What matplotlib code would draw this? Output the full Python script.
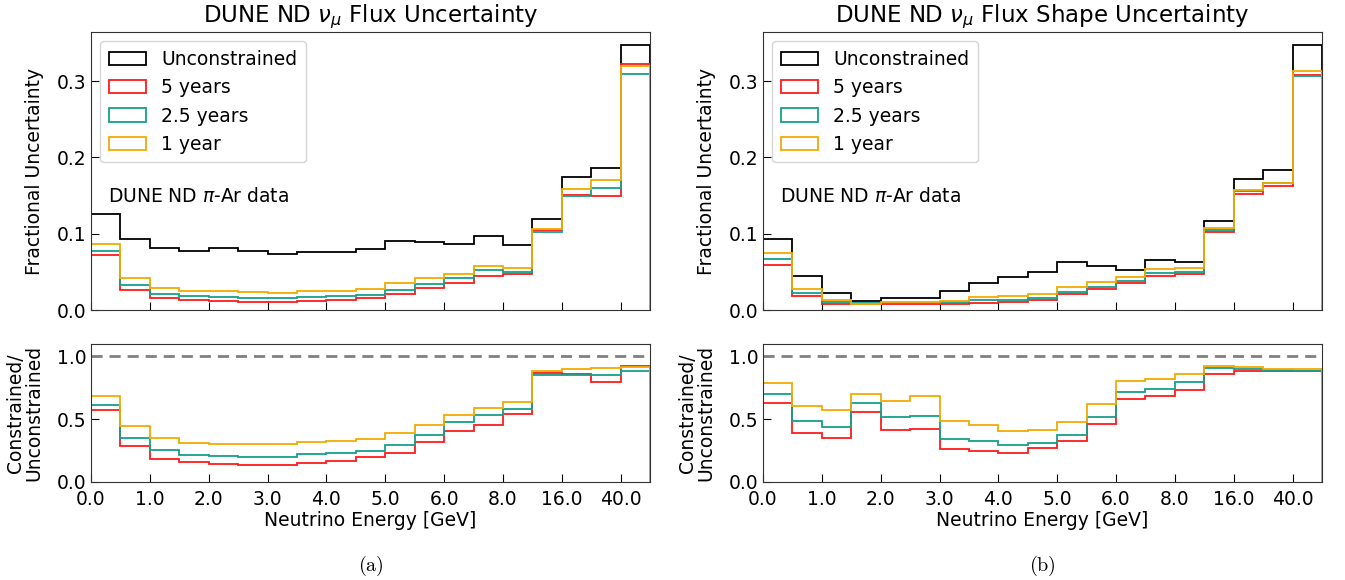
import numpy as np
import matplotlib.pyplot as plt

plt.rcParams['font.family'] = ['DejaVu Sans']
plt.rcParams['mathtext.fontset'] = 'dejavusans'

# bin labels (every second bin edge is labelled)
tick_labels = ['0.0', '1.0', '2.0', '3.0', '4.0', '5.0', '6.0', '8.0', '16.0', '40.0']
nbins = 19
series_names = ['Unconstrained', '5 years', '2.5 years', '1 year']
colors = ['black', '#ff1a1a', '#16a08a', '#f2ab00']

# (a) total flux uncertainty
a_unc = [0.126, 0.0934, 0.081, 0.078, 0.081, 0.077, 0.074, 0.076, 0.076, 0.080,
         0.091, 0.0886, 0.0864, 0.0965, 0.0855, 0.119, 0.175, 0.186, 0.347]
a_5y = [0.0715, 0.0268, 0.0158, 0.0132, 0.0118, 0.011, 0.0105, 0.0123, 0.0132, 0.0162,
        0.021, 0.029, 0.036, 0.045, 0.047, 0.105, 0.151, 0.149, 0.322]
a_25y = [0.077, 0.033, 0.021, 0.018, 0.017, 0.016, 0.0154, 0.017, 0.018, 0.020,
         0.026, 0.034, 0.042, 0.052, 0.050, 0.102, 0.150, 0.160, 0.310]
a_1y = [0.0864, 0.0425, 0.029, 0.025, 0.025, 0.0237, 0.0228, 0.025, 0.0254, 0.028,
        0.0355, 0.0417, 0.047, 0.058, 0.0557, 0.106, 0.159, 0.170, 0.320]
a_r5y = [0.571, 0.289, 0.184, 0.163, 0.145, 0.139, 0.137, 0.153, 0.171, 0.197,
         0.232, 0.321, 0.408, 0.455, 0.539, 0.866, 0.861, 0.797, 0.926]
a_r25y = [0.613, 0.353, 0.258, 0.218, 0.205, 0.200, 0.200, 0.221, 0.229, 0.250,
          0.297, 0.374, 0.476, 0.534, 0.582, 0.853, 0.853, 0.853, 0.887]
a_r1y = [0.684, 0.447, 0.353, 0.313, 0.303, 0.300, 0.303, 0.321, 0.329, 0.345,
         0.387, 0.453, 0.534, 0.592, 0.637, 0.882, 0.897, 0.908, 0.918]

# (b) shape-only uncertainty
b_unc = [0.093, 0.0447, 0.0228, 0.0118, 0.0154, 0.0154, 0.025, 0.036, 0.043, 0.050,
         0.0636, 0.0583, 0.0526, 0.065, 0.0627, 0.117, 0.172, 0.183, 0.347]
b_5y = [0.0588, 0.0184, 0.0079, 0.0075, 0.0075, 0.0079, 0.0075, 0.0096, 0.0105, 0.0136,
        0.0215, 0.028, 0.035, 0.0447, 0.047, 0.1018, 0.1526, 0.163, 0.308]
b_25y = [0.067, 0.022, 0.011, 0.0088, 0.0092, 0.0096, 0.0105, 0.0127, 0.0136, 0.0162,
         0.024, 0.0307, 0.038, 0.048, 0.050, 0.105, 0.156, 0.166, 0.307]
b_1y = [0.075, 0.028, 0.0132, 0.0079, 0.010, 0.011, 0.0118, 0.017, 0.018, 0.021,
        0.0307, 0.0368, 0.043, 0.0544, 0.0548, 0.108, 0.1575, 0.166, 0.3136]
b_r5y = [0.632, 0.392, 0.353, 0.561, 0.413, 0.424, 0.261, 0.247, 0.234, 0.268,
         0.329, 0.461, 0.663, 0.689, 0.732, 0.863, 0.882, 0.882, 0.884]
b_r25y = [0.705, 0.482, 0.439, 0.626, 0.518, 0.529, 0.345, 0.324, 0.295, 0.313,
          0.371, 0.518, 0.718, 0.742, 0.797, 0.908, 0.900, 0.889, 0.887]
b_r1y = [0.789, 0.608, 0.574, 0.703, 0.647, 0.689, 0.484, 0.453, 0.408, 0.413,
         0.474, 0.624, 0.803, 0.824, 0.861, 0.924, 0.913, 0.897, 0.900]

edges = np.arange(nbins + 1)
centers = edges[:-1] + 0.5
fs = 13.5

fig = plt.figure(figsize=(13.45, 5.8), dpi=100)

panels = [
    (0.0677, r'DUNE ND $\nu_\mu$ Flux Uncertainty', [a_unc, a_5y, a_25y, a_1y],
     [a_r5y, a_r25y, a_r1y], '(a)'),
    (0.5673, r'DUNE ND $\nu_\mu$ Flux Shape Uncertainty', [b_unc, b_5y, b_25y, b_1y],
     [b_r5y, b_r25y, b_r1y], '(b)'),
]

for left, title, top_vals, ratio_vals, tag in panels:
    ax = fig.add_axes([left, 0.4655, 0.4156, 0.4793])
    axr = fig.add_axes([left, 0.169, 0.4156, 0.238])

    for vals, name, c in zip(top_vals, series_names, colors):
        ax.hist(centers, bins=edges, weights=vals, histtype='step', color=c,
                lw=1.3, label=name)
    for vals, c in zip(ratio_vals, colors[1:]):
        axr.hist(centers, bins=edges, weights=vals, histtype='step', color=c, lw=1.3)
    axr.axhline(1.0, color='grey', ls='--', lw=2, dashes=(4, 2.5))

    ax.set_xlim(0, nbins)
    ax.set_ylim(0, 0.3645)
    axr.set_xlim(0, nbins)
    axr.set_ylim(0, 1.1)
    ax.set_yticks([0.0, 0.1, 0.2, 0.3])
    axr.set_yticks([0.0, 0.5, 1.0])
    ax.set_xticks(edges[::2][:10])
    ax.set_xticklabels([])
    axr.set_xticks(edges[::2][:10])
    axr.set_xticklabels(tick_labels)
    for a in (ax, axr):
        a.tick_params(direction='in', labelsize=fs, length=6)
        for s in a.spines.values():
            s.set_color('#333333')
    axr.tick_params(axis='x', pad=5.5)

    ax.set_title(title, fontsize=16.5, pad=7)
    ax.set_ylabel('Fractional Uncertainty', fontsize=fs)
    axr.set_ylabel('Constrained/\nUnconstrained', fontsize=fs, linespacing=1.0)
    axr.set_xlabel('Neutrino Energy [GeV]', fontsize=fs, labelpad=2)
    ax.yaxis.set_label_coords(-0.085, 0.5)
    axr.yaxis.set_label_coords(-0.085, 0.5)
    ax.text(0.03, 0.39, r'DUNE ND $\pi$-Ar data', transform=ax.transAxes, fontsize=fs)
    ax.legend(loc='upper left', fontsize=fs, handlelength=2.0, borderpad=0.45,
              labelspacing=0.5)
    fig.text(left + 0.2078, 0.015, r'$\mathrm{' + tag + '}$', ha='center',
             fontsize=14.5, math_fontfamily='cm')

fig.savefig('out.png', dpi=100)
